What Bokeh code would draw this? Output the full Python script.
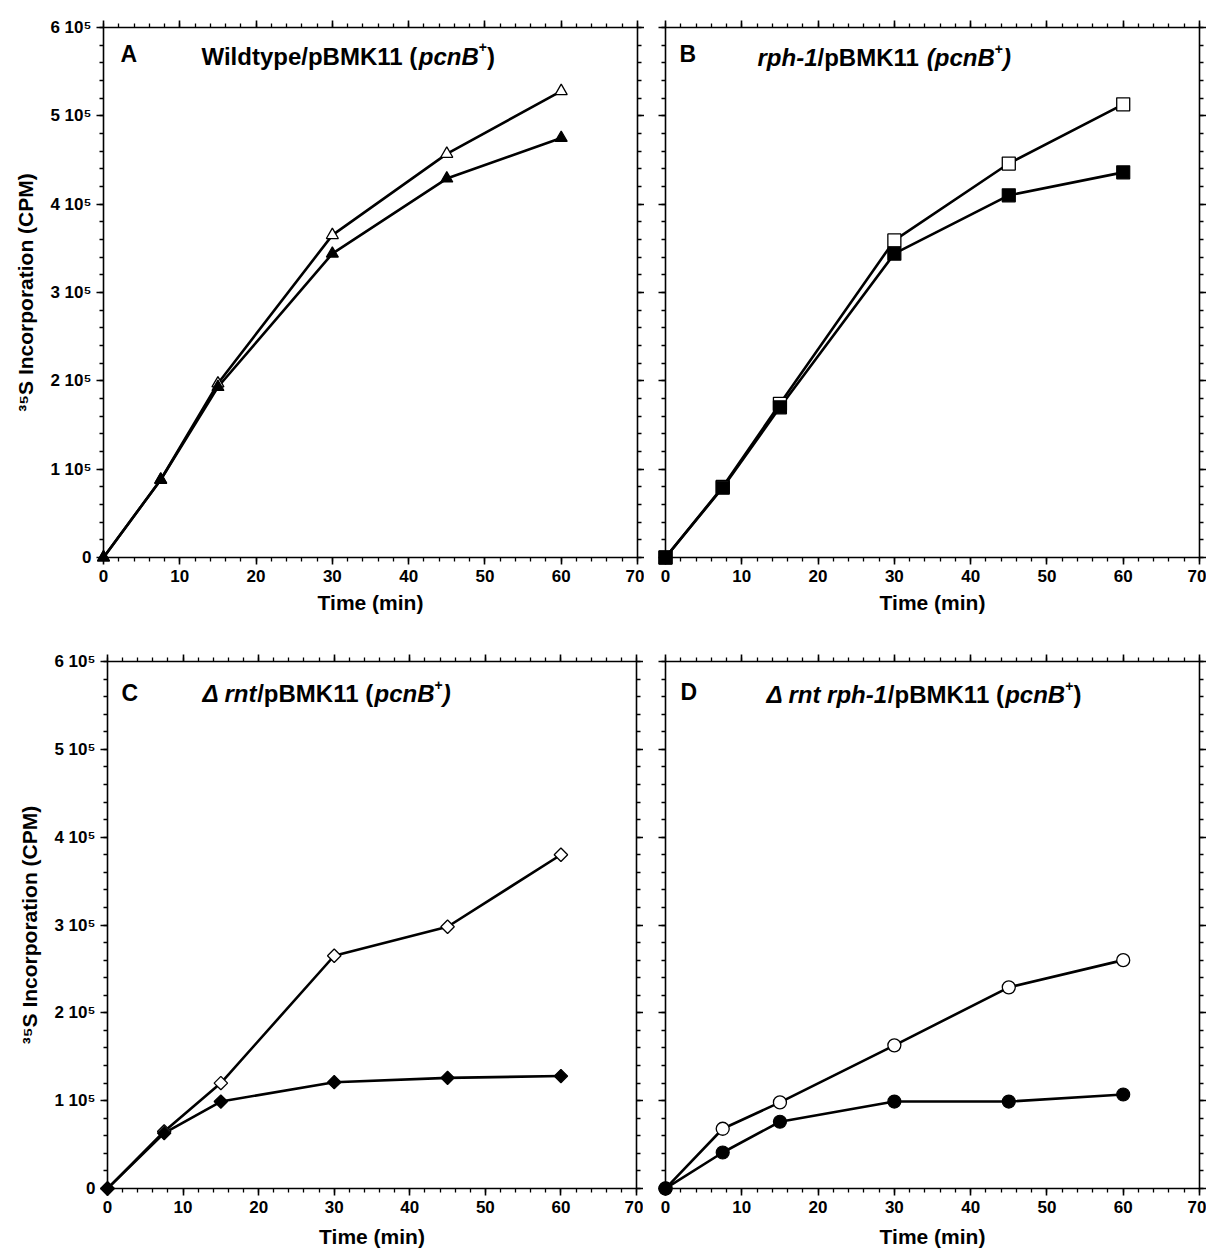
import math
from bokeh.plotting import figure
from bokeh.models import LinearAxis, FixedTicker, Range1d, CustomJSTickFormatter
from bokeh.layouts import row, column
from bokeh.embed import file_html
from bokeh.resources import INLINE
from bokeh.core.properties import value

# ---------------- data ----------------
time_min = [0, 7.5, 15, 30, 45, 60]

a_open = [0, 0.88e5, 1.97e5, 3.65e5, 4.57e5, 5.28e5]
a_filled = [0, 0.88e5, 1.93e5, 3.44e5, 4.29e5, 4.75e5]

b_open = [0, 0.80e5, 1.74e5, 3.59e5, 4.46e5, 5.13e5]
b_filled = [0, 0.79e5, 1.70e5, 3.44e5, 4.10e5, 4.36e5]

c_open = [0, 0.65e5, 1.20e5, 2.65e5, 2.98e5, 3.80e5]
c_filled = [0, 0.63e5, 0.99e5, 1.21e5, 1.26e5, 1.28e5]

d_open = [0, 0.68e5, 0.98e5, 1.63e5, 2.29e5, 2.60e5]
d_filled = [0, 0.41e5, 0.76e5, 0.99e5, 0.99e5, 1.07e5]

x_ticks = [0, 10, 20, 30, 40, 50, 60, 70]
x_tick_labels = ["0", "10", "20", "30", "40", "50", "60", "70"]
y_ticks = [0, 1e5, 2e5, 3e5, 4e5, 5e5, 6e5]
y_tick_labels = ["0", "1 10\u2075", "2 10\u2075", "3 10\u2075", "4 10\u2075", "5 10\u2075", "6 10\u2075"]

x_label = "Time (min)"
y_label = "\u00b3\u2075S Incorporation (CPM)"

# title segments: (text, style)  style: n = bold, i = bold italic, s = superscript
title_a = [("Wildtype/pBMK11 (", "n"), ("pcnB", "i"), ("+", "s"), (")", "n")]
title_b = [("rph-1", "i"), ("/pBMK11 ", "n"), ("(pcnB", "i"), ("+", "s"), (")", "i")]
title_c = [("\u0394 rnt", "i"), ("/pBMK11 (", "n"), ("pcnB", "i"), ("+", "s"), (")", "i")]
title_d = [("\u0394 rnt rph-1", "i"), ("/pBMK11 (", "n"), ("pcnB", "i"), ("+", "s"), (")", "n")]

FONT = "Liberation Sans"
XMAX = 70
YMAX = 6e5

# Arial/Liberation Sans Bold advance widths (per 1000 em)
AW = {" ": 278, "(": 333, ")": 333, "+": 584, "-": 333, "/": 278, "A": 722, "B": 722,
      "C": 722, "D": 722, "K": 722, "M": 833, "P": 667, "S": 667, "T": 611, "W": 944,
      "a": 556, "c": 556, "d": 611, "e": 556, "h": 611, "i": 278, "l": 278, "m": 889,
      "n": 611, "o": 611, "p": 611, "r": 389, "t": 333, "y": 556, "\u0394": 668}


def twidth(s, size):
    return sum(AW.get(ch, 556) for ch in s) / 1000.0 * size


def style_axis(ax, show_labels, overrides=None):
    ax.axis_line_width = 1.6
    ax.axis_line_color = "black"
    ax.major_tick_line_width = 1.6
    ax.minor_tick_line_width = 1.3
    ax.major_tick_line_color = "black"
    ax.minor_tick_line_color = "black"
    ax.major_tick_out = 7
    ax.major_tick_in = 0
    ax.minor_tick_out = 4
    ax.minor_tick_in = 0
    ax.major_label_text_font = FONT
    ax.major_label_text_font_style = "bold"
    ax.major_label_text_font_size = "17px"
    ax.major_label_text_color = "black"
    if show_labels:
        ax.major_label_overrides = overrides
        ax.major_label_standoff = 5
    else:
        ax.formatter = CustomJSTickFormatter(code="return '';")
        ax.major_label_standoff = 0


def make_panel(letter, title, open_y, filled_y, marker, msize, mangle, show_ylabel,
               bl, fw, br, bt, fh, bb,
               letter_dx, letter_dy, title_dx, title_dy, title_size, xlabel_standoff):
    p = figure(width=bl + fw + br, height=bt + fh + bb,
               x_range=Range1d(0, XMAX), y_range=Range1d(0, YMAX),
               output_backend="svg", toolbar_location=None,
               min_border_left=bl, min_border_right=br, min_border_top=bt, min_border_bottom=bb)
    p.outline_line_color = None
    p.xgrid.visible = False
    p.ygrid.visible = False
    p.background_fill_color = "white"
    p.border_fill_color = "white"

    x_minor = [v for v in range(0, XMAX + 1, 2)]
    y_minor = [v * 2e4 for v in range(0, 31)]

    xa = p.xaxis[0]
    xa.ticker = FixedTicker(ticks=x_ticks, minor_ticks=x_minor)
    style_axis(xa, True, {t: l for t, l in zip(x_ticks, x_tick_labels)})
    xa.axis_label = x_label
    xa.axis_label_text_font = FONT
    xa.axis_label_text_font_style = "bold"
    xa.axis_label_text_font_size = "21px"
    xa.axis_label_text_color = "black"
    xa.axis_label_standoff = xlabel_standoff

    ya = p.yaxis[0]
    ya.ticker = FixedTicker(ticks=y_ticks, minor_ticks=y_minor)
    style_axis(ya, show_ylabel, {t: l for t, l in zip(y_ticks, y_tick_labels)})
    if show_ylabel:
        ya.axis_label = y_label
        ya.axis_label_text_font = FONT
        ya.axis_label_text_font_style = "bold"
        ya.axis_label_text_font_size = "21px"
        ya.axis_label_text_color = "black"
        ya.axis_label_standoff = 10

    top = LinearAxis(ticker=FixedTicker(ticks=x_ticks, minor_ticks=x_minor))
    style_axis(top, False)
    p.add_layout(top, "above")
    right = LinearAxis(ticker=FixedTicker(ticks=y_ticks, minor_ticks=y_minor))
    style_axis(right, False)
    p.add_layout(right, "right")

    # data: lines first, then open markers, filled markers on top
    p.line(time_min, open_y, line_color="black", line_width=2.6)
    p.line(time_min, filled_y, line_color="black", line_width=2.6)
    p.scatter(time_min, open_y, marker=marker, size=msize, angle=mangle, fill_color="white",
              line_color="black", line_width=1.3, level="overlay")
    p.scatter(time_min, filled_y, marker=marker, size=msize, angle=mangle, fill_color="black",
              line_color="black", line_width=1.2, level="overlay")

    # panel letter and title (positions converted from frame pixels to data units)
    pxx = XMAX / fw
    pxy = YMAX / fh
    p.text(x=[letter_dx * pxx], y=[YMAX - letter_dy * pxy], text=[letter],
           text_font=value(FONT), text_font_style="bold", text_font_size="23px",
           text_baseline="middle", text_align="left", text_color="black")
    x0 = title_dx * pxx
    y0 = YMAX - title_dy * pxy
    off = 0.0
    for seg, st in title:
        if st == "s":
            size = round(title_size * 0.6)
            p.text(x=[x0], y=[y0], text=[seg], x_offset=[off], y_offset=[-title_size * 0.36],
                   text_font=value(FONT), text_font_style="bold", text_font_size=f"{size}px",
                   text_baseline="middle", text_align="left", text_color="black")
            off += twidth(seg, size)
        else:
            fs = "bold italic" if st == "i" else "bold"
            p.text(x=[x0], y=[y0], text=[seg], x_offset=[off],
                   text_font=value(FONT), text_font_style=fs, text_font_size=f"{title_size}px",
                   text_baseline="middle", text_align="left", text_color="black")
            off += twidth(seg, title_size)
    return p


ROT = math.pi / 4
pa = make_panel("A", title_a, a_open, a_filled, "triangle", 12, 0, True,
                103, 534, 7, 27, 530, 62, 17, 26.5, 98, 28.5, 24, 6)
pb = make_panel("B", title_b, b_open, b_filled, "square", 13, 0, False,
                21, 534, 7, 27, 530, 62, 14, 26, 92, 30, 24, 6)
pc = make_panel("C", title_c, c_open, c_filled, "square", 9.5, ROT, True,
                107, 529, 7, 42, 528, 61, 14, 31.5, 95, 32, 24, 9)
pd = make_panel("D", title_d, d_open, d_filled, "circle", 13, 0, False,
                22, 534, 7, 42, 528, 61, 15, 31, 101, 33, 24, 9)

layout = column(row(pa, pb), row(pc, pd))
open("out.html", "w").write(file_html(layout, INLINE))
